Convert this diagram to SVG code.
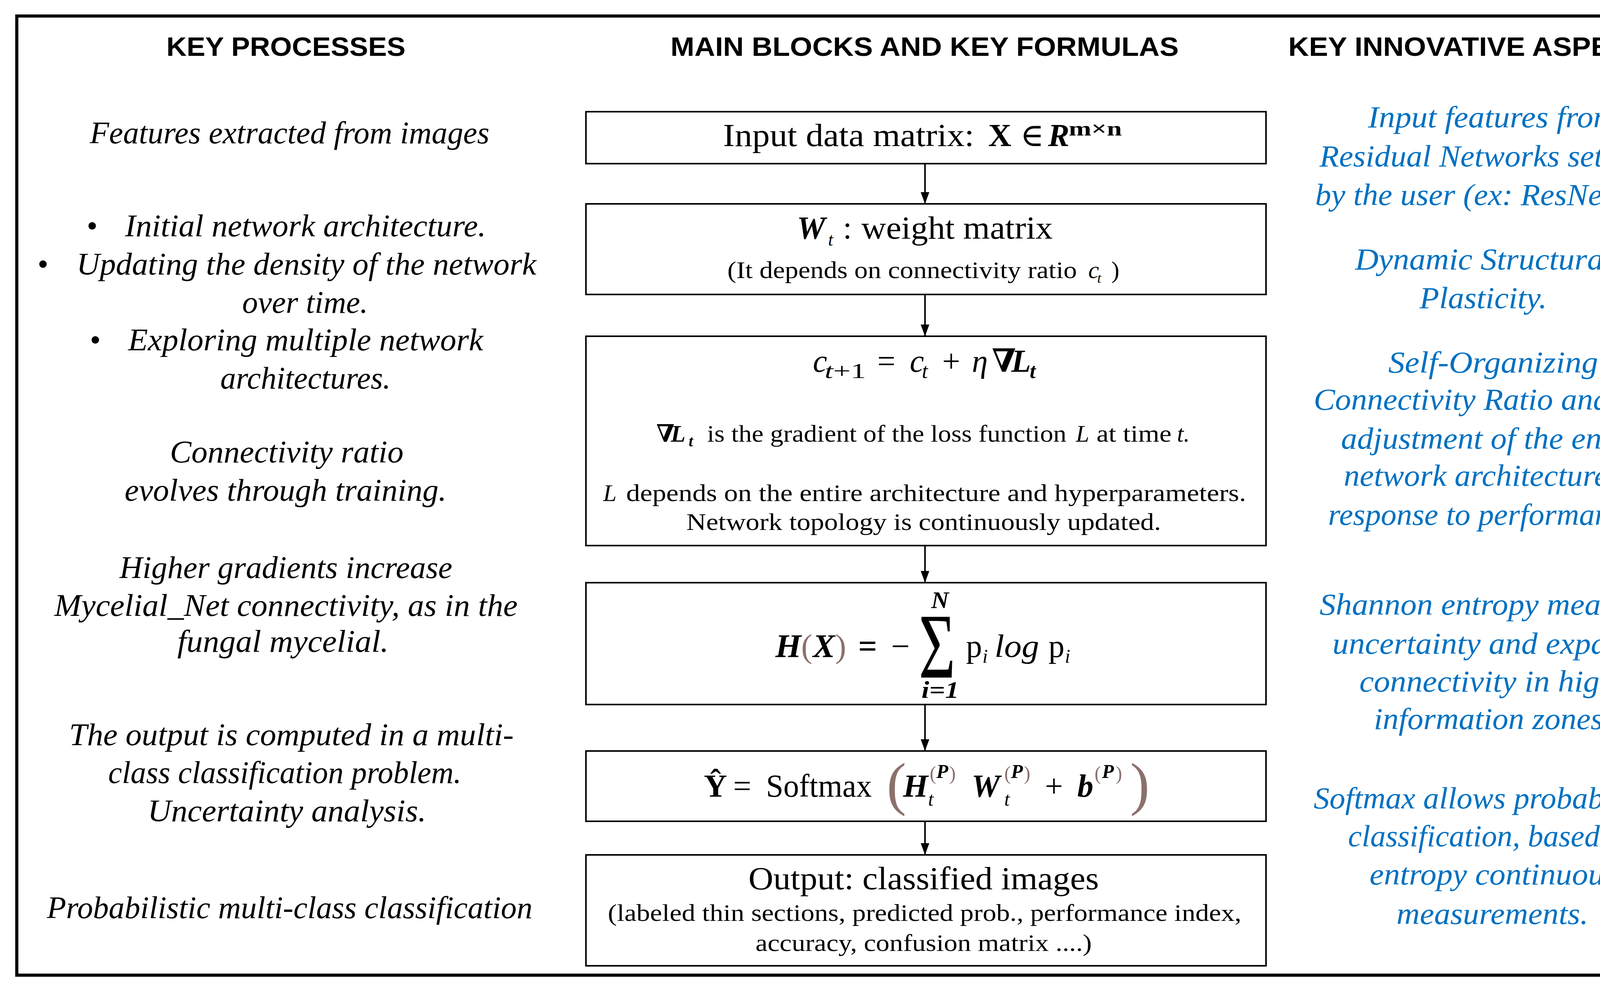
<svg xmlns="http://www.w3.org/2000/svg" width="4397" height="2535" viewBox="0 0 4397 2535">
<defs>
<marker id="ah" viewBox="0 0 30 22" refX="30" refY="11" markerWidth="30" markerHeight="22" markerUnits="userSpaceOnUse" orient="auto">
<path d="M0,0 L30,11 L0,22 z" fill="#000"/>
</marker>
<style>
.hdr{font-family:"Liberation Sans",Arial,sans-serif;font-weight:bold;font-size:68px;text-anchor:middle;fill:#000}
.lt{font-family:"Liberation Serif","DejaVu Serif",serif;font-style:italic;font-size:80px;fill:#000}
.bul{font-family:"Liberation Serif","DejaVu Serif",serif;font-size:80px;fill:#000}
.rt{font-family:"Liberation Serif","DejaVu Serif",serif;font-style:italic;font-size:78px;fill:#0070C0}
.bx{fill:#fff;stroke:#000;stroke-width:4}
.m{font-family:"Liberation Serif","DejaVu Serif",serif;font-size:82px;fill:#000}
.s{font-family:"Liberation Serif","DejaVu Serif",serif;font-size:62px;fill:#000}
.i{font-style:italic}
.b{font-weight:bold}
.bi{font-weight:bold;font-style:italic}
.br{fill:#8b716c}
.conn line{stroke:#000;stroke-width:4;marker-end:url(#ah)}
</style>
</defs>
<rect width="4397" height="2535" fill="#fff"/>
<rect id="frame" x="43" y="41" width="4313" height="2456" fill="none" stroke="#000" stroke-width="8"/>

<g id="headers">
<text class="hdr" x="732" y="143" textLength="612" lengthAdjust="spacingAndGlyphs">KEY PROCESSES</text>
<text class="hdr" x="2367" y="143" textLength="1301" lengthAdjust="spacingAndGlyphs">MAIN BLOCKS AND KEY FORMULAS</text>
<text class="hdr" x="3783" y="143" textLength="970" lengthAdjust="spacingAndGlyphs">KEY INNOVATIVE ASPECTS</text>
</g>

<g id="key-processes">
<text class="lt" x="230" y="367" textLength="1023" lengthAdjust="spacingAndGlyphs">Features extracted from images</text>
<text class="bul" x="222" y="605">•</text>
<text class="lt" x="320" y="605" textLength="924" lengthAdjust="spacingAndGlyphs">Initial network architecture.</text>
<text class="bul" x="96" y="703">•</text>
<text class="lt" x="196" y="703" textLength="1177" lengthAdjust="spacingAndGlyphs">Updating the density of the network</text>
<text class="lt" x="620" y="801" textLength="322" lengthAdjust="spacingAndGlyphs">over time.</text>
<text class="bul" x="230" y="897">•</text>
<text class="lt" x="328" y="897" textLength="909" lengthAdjust="spacingAndGlyphs">Exploring multiple network</text>
<text class="lt" x="564" y="995" textLength="436" lengthAdjust="spacingAndGlyphs">architectures.</text>
<text class="lt" x="435" y="1184" textLength="598" lengthAdjust="spacingAndGlyphs">Connectivity ratio</text>
<text class="lt" x="319" y="1282" textLength="824" lengthAdjust="spacingAndGlyphs">evolves through training.</text>
<text class="lt" x="306" y="1480" textLength="852" lengthAdjust="spacingAndGlyphs">Higher gradients increase</text>
<text class="lt" x="139" y="1577" textLength="1186" lengthAdjust="spacingAndGlyphs">Mycelial_Net connectivity, as in the</text>
<text class="lt" x="454" y="1669" textLength="541" lengthAdjust="spacingAndGlyphs">fungal mycelial.</text>
<text class="lt" x="177" y="1908" textLength="1138" lengthAdjust="spacingAndGlyphs">The output is computed in a multi-</text>
<text class="lt" x="277" y="2005" textLength="904" lengthAdjust="spacingAndGlyphs">class classification problem.</text>
<text class="lt" x="378" y="2103" textLength="713" lengthAdjust="spacingAndGlyphs">Uncertainty analysis.</text>
<text class="lt" x="120" y="2351" textLength="1243" lengthAdjust="spacingAndGlyphs">Probabilistic multi-class classification</text>
</g>

<g id="innovative-aspects">
<text class="rt" x="3502" y="326" textLength="637" lengthAdjust="spacingAndGlyphs">Input features from</text>
<text class="rt" x="3378" y="426" textLength="889" lengthAdjust="spacingAndGlyphs">Residual Networks settable</text>
<text class="rt" x="3367" y="525" textLength="907" lengthAdjust="spacingAndGlyphs">by the user (ex: ResNet 50).</text>
<text class="rt" x="3469" y="690" textLength="659" lengthAdjust="spacingAndGlyphs">Dynamic Structural</text>
<text class="rt" x="3634" y="789" textLength="326" lengthAdjust="spacingAndGlyphs">Plasticity.</text>
<text class="rt" x="3554" y="954" textLength="537" lengthAdjust="spacingAndGlyphs">Self-Organizing</text>
<text class="rt" x="3363" y="1049" textLength="918" lengthAdjust="spacingAndGlyphs">Connectivity Ratio and self-</text>
<text class="rt" x="3433" y="1149" textLength="779" lengthAdjust="spacingAndGlyphs">adjustment of the entire</text>
<text class="rt" x="3440" y="1244" textLength="761" lengthAdjust="spacingAndGlyphs">network architecture in</text>
<text class="rt" x="3400" y="1344" textLength="845" lengthAdjust="spacingAndGlyphs">response to performances.</text>
<text class="rt" x="3378" y="1574" textLength="892" lengthAdjust="spacingAndGlyphs">Shannon entropy measures</text>
<text class="rt" x="3411" y="1674" textLength="819" lengthAdjust="spacingAndGlyphs">uncertainty and expands</text>
<text class="rt" x="3480" y="1771" textLength="684" lengthAdjust="spacingAndGlyphs">connectivity in high-</text>
<text class="rt" x="3517" y="1867" textLength="607" lengthAdjust="spacingAndGlyphs">information zones.</text>
<text class="rt" x="3363" y="2070" textLength="922" lengthAdjust="spacingAndGlyphs">Softmax allows probabilistic</text>
<text class="rt" x="3451" y="2167" textLength="743" lengthAdjust="spacingAndGlyphs">classification, based on</text>
<text class="rt" x="3506" y="2265" textLength="633" lengthAdjust="spacingAndGlyphs">entropy continuous</text>
<text class="rt" x="3575" y="2366" textLength="491" lengthAdjust="spacingAndGlyphs">measurements.</text>
</g>

<g id="connectors" class="conn">
<line x1="2368" y1="419" x2="2368" y2="522"/>
<line x1="2368" y1="754" x2="2368" y2="861"/>
<line x1="2368" y1="1397" x2="2368" y2="1492"/>
<line x1="2368" y1="1804" x2="2368" y2="1923"/>
<line x1="2368" y1="2103" x2="2368" y2="2189"/>
</g>

<g id="input-matrix">
<rect class="bx" x="1500" y="286" width="1741" height="133"/>
<text class="m" x="1851" y="374" textLength="643" lengthAdjust="spacingAndGlyphs">Input data matrix:</text>
<text class="m b" x="2530" y="374">X</text>
<text class="m" x="2612" y="374">∈</text>
<text class="m bi" x="2683" y="374">R</text>
<text class="m b" x="2736" y="347" style="font-size:52px" textLength="136" lengthAdjust="spacingAndGlyphs">m×n</text>
</g>

<g id="weight-matrix">
<rect class="bx" x="1500" y="522" width="1741" height="232"/>
<text class="m bi" x="2040" y="611">W</text>
<text class="m i" x="2120" y="629" style="font-size:46px">t</text>
<text class="m" x="2158" y="611">:</text>
<text class="m" x="2205" y="611" textLength="490" lengthAdjust="spacingAndGlyphs">weight matrix</text>
<text class="s" x="1862" y="712" textLength="895" lengthAdjust="spacingAndGlyphs">(It depends on connectivity ratio</text>
<text class="s i" x="2786" y="712">c</text>
<text class="s i" x="2809" y="724" style="font-size:36px">t</text>
<text class="s" x="2845" y="712">)</text>
</g>

<g id="connectivity-update">
<rect class="bx" x="1500" y="861" width="1741" height="536"/>
<text class="m i" x="2081" y="952">c</text>
<text class="m" x="2111" y="968" style="font-size:55px" textLength="106" lengthAdjust="spacingAndGlyphs"><tspan class="i">t</tspan>+1</text>
<text class="m" x="2246" y="952">=</text>
<text class="m i" x="2329" y="952">c</text>
<text class="m i" x="2360" y="968" style="font-size:55px">t</text>
<text class="m" x="2412" y="952">+</text>
<text class="m i" x="2488" y="952">η</text>
<text class="m b" x="2539" y="952">∇</text>
<text class="m bi" x="2589" y="952">L</text>
<text class="m bi" x="2636" y="968" style="font-size:55px">t</text>
<text class="s b" x="1680" y="1131">∇</text>
<text class="s bi" x="1717" y="1131">L</text>
<text class="s bi" x="1763" y="1143" style="font-size:40px">t</text>
<text class="s" x="1810" y="1131" textLength="920" lengthAdjust="spacingAndGlyphs">is the gradient of the loss function</text>
<text class="s i" x="2754" y="1131">L</text>
<text class="s" x="2807" y="1131" textLength="192" lengthAdjust="spacingAndGlyphs">at time</text>
<text class="s i" x="3013" y="1131">t.</text>
<text class="s i" x="1544" y="1283">L</text>
<text class="s" x="1603" y="1283" textLength="1587" lengthAdjust="spacingAndGlyphs">depends on the entire architecture and hyperparameters.</text>
<text class="s" x="1757" y="1357" textLength="1215" lengthAdjust="spacingAndGlyphs">Network topology is continuously updated.</text>
</g>

<g id="shannon-entropy">
<rect class="bx" x="1500" y="1492" width="1741" height="312"/>
<text class="m bi" x="1985" y="1683" style="font-size:85px">H</text>
<text class="m br" x="2051" y="1683" style="font-size:85px">(</text>
<text class="m bi" x="2081" y="1683" style="font-size:85px">X</text>
<text class="m br" x="2138" y="1683" style="font-size:85px">)</text>
<text class="m b" x="2197" y="1683" style="font-size:85px">=</text>
<text class="m" x="2281" y="1683" style="font-size:85px">−</text>
<text class="m" x="0" y="0" style="font-size:237px" transform="translate(2352,1735) scale(0.68,1)">Σ</text>
<text class="m bi" x="2384" y="1557" style="font-size:62px">N</text>
<text class="m bi" x="2359" y="1787" style="font-size:62px" textLength="96" lengthAdjust="spacingAndGlyphs">i=1</text>
<text class="m" x="2473" y="1682">p</text>
<text class="m i" x="2515" y="1697" style="font-size:50px">i</text>
<text class="m i" x="2546" y="1682" textLength="114" lengthAdjust="spacingAndGlyphs">log</text>
<text class="m" x="2684" y="1682">p</text>
<text class="m i" x="2726" y="1697" style="font-size:50px">i</text>
</g>

<g id="softmax-output">
<rect class="bx" x="1500" y="1923" width="1741" height="180"/>
<text class="m b" x="1802" y="2040">Ŷ</text>
<text class="m" x="1877" y="2040">=</text>
<text class="m" x="1961" y="2040" textLength="271" lengthAdjust="spacingAndGlyphs">Softmax</text>
<text class="m br" x="2270" y="2058" style="font-size:150px">(</text>
<text class="m bi" x="2312" y="2040">H</text>
<text class="m i" x="2376" y="2063" style="font-size:50px">t</text>
<text class="m br" x="2380" y="1997" style="font-size:50px">(</text>
<text class="m bi" x="2397" y="1992" style="font-size:50px">P</text>
<text class="m br" x="2430" y="1997" style="font-size:50px">)</text>
<text class="m bi" x="2487" y="2040">W</text>
<text class="m i" x="2571" y="2063" style="font-size:50px">t</text>
<text class="m br" x="2571" y="1997" style="font-size:50px">(</text>
<text class="m bi" x="2588" y="1992" style="font-size:50px">P</text>
<text class="m br" x="2621" y="1997" style="font-size:50px">)</text>
<text class="m" x="2675" y="2040">+</text>
<text class="m bi" x="2758" y="2040">b</text>
<text class="m br" x="2802" y="1997" style="font-size:50px">(</text>
<text class="m bi" x="2821" y="1992" style="font-size:50px">P</text>
<text class="m br" x="2856" y="1997" style="font-size:50px">)</text>
<text class="m br" x="2893" y="2058" style="font-size:150px">)</text>
</g>

<g id="classified-output">
<rect class="bx" x="1500" y="2189" width="1741" height="284"/>
<text class="m" x="1916" y="2277" textLength="897" lengthAdjust="spacingAndGlyphs">Output: classified images</text>
<text class="s" x="1556" y="2358" textLength="1622" lengthAdjust="spacingAndGlyphs">(labeled thin sections, predicted prob., performance index,</text>
<text class="s" x="1934" y="2435" textLength="861" lengthAdjust="spacingAndGlyphs">accuracy, confusion matrix ....)</text>
</g>
</svg>
